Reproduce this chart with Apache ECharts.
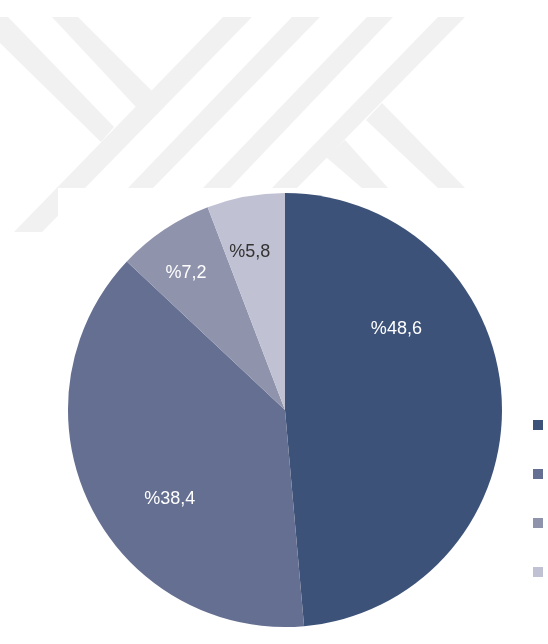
<!DOCTYPE html>
<html>
<head>
<meta charset="utf-8">
<style>html,body{margin:0;padding:0;background:#fff;}#chart{width:548px;height:644px;}</style>
<script src="https://cdn.jsdelivr.net/npm/echarts@6/dist/echarts.min.js"></script>
</head>
<body>
<div id="chart"></div>
<script>
var categories = ['Kategori A', 'Kategori B', 'Kategori C', 'Kategori D'];
var values = [48.6, 38.4, 7.2, 5.8];
var labels = ['%48,6', '%38,4', '%7,2', '%5,8'];

var colors = ['#3d5279', '#656f91', '#8f93ac', '#c0c2d4'];
var labelColors = ['#ffffff', '#ffffff', '#ffffff', '#333333'];
var labelShift = [[0, -76], [-15, 40], [-37, -44], [-15, -48]];

var wm = '#f1f1f1';
function poly(pts) { return { type: 'polygon', silent: true, z: -10, shape: { points: pts }, style: { fill: wm } }; }

var chart = echarts.init(document.getElementById('chart'));
chart.setOption({
  backgroundColor: '#ffffff',
  animation: false,
  graphic: [
    poly([[0,17],[8,17],[114,127],[101,142],[0,43]]),
    poly([[52,17],[78,17],[153,92],[136,107]]),
    poly([[223,17],[252,17],[42,232],[14,232]]),
    poly([[292,17],[320,17],[153,188],[128,188]]),
    poly([[367,17],[393,17],[230,188],[203,188]]),
    poly([[438,17],[465,17],[297,188],[272,188]]),
    poly([[366,120],[382,103],[465,188],[438,188]]),
    poly([[326,157],[345,140],[388,188],[362,188]]),
    { type: 'rect', silent: true, z: -9, shape: { x: 58, y: 188, width: 500, height: 460 }, style: { fill: '#ffffff' } }
  ],
  legend: {
    orient: 'vertical',
    left: 533,
    top: 419,
    padding: 0,
    itemWidth: 10,
    itemHeight: 10,
    itemGap: 37,
    icon: 'rect',
    textStyle: { fontSize: 12, lineHeight: 10, color: '#555', fontFamily: 'Liberation Sans, Arial, sans-serif' },
    data: categories
  },
  series: [{
    type: 'pie',
    center: [285, 410],
    radius: 217,
    startAngle: 90,
    clockwise: true,
    avoidLabelOverlap: false,
    label: {
      show: true,
      position: 'inside',
      fontSize: 18,
      fontFamily: 'Liberation Sans, Arial, sans-serif',
      formatter: function (p) { return labels[p.dataIndex]; }
    },
    labelLine: { show: false },
    labelLayout: function (p) {
      var s = labelShift[p.dataIndex];
      return { dx: s[0], dy: s[1] };
    },
    emphasis: { disabled: true },
    itemStyle: { borderWidth: 0 },
    data: categories.map(function (c, i) {
      return {
        name: c,
        value: values[i],
        itemStyle: { color: colors[i] },
        label: { color: labelColors[i] }
      };
    })
  }]
});
</script>
</body>
</html>
